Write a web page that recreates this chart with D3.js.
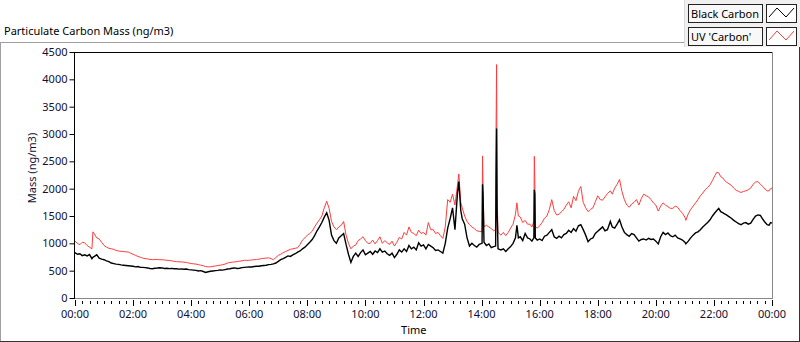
<!DOCTYPE html>
<html>
<head>
<meta charset="utf-8">
<script src="https://cdn.jsdelivr.net/npm/d3@7/dist/d3.min.js"></script>
<style>
  body { margin: 0; background: #fff; }
  svg text { font-family: "Noto Sans", sans-serif; }
</style>
</head>
<body>
<div id="chart"></div>
<script>
// minutes since midnight
const times = [
    0,5,10,15,20,25,30,35,37,40,
    45,50,55,60,65,70,75,80,85,90,
    95,100,105,110,115,120,125,130,135,140,
    145,150,155,160,165,170,175,180,185,190,
    195,200,205,210,215,220,225,230,235,240,
    245,250,255,260,265,270,275,280,285,290,
    295,300,305,310,315,320,325,330,335,340,
    345,350,355,360,365,370,375,380,385,390,
    395,400,405,410,415,420,425,430,435,440,
    445,450,455,460,465,470,475,480,485,490,
    495,500,505,510,515,520,525,530,535,540,
    545,550,555,560,565,570,575,580,585,590,
    595,600,605,610,615,620,625,630,635,640,
    645,650,655,660,665,670,675,680,685,690,
    695,700,705,710,715,720,725,730,735,740,
    745,750,755,760,765,770,775,780,785,790,
    793,797,800,805,810,815,820,825,830,835,
    841,842,843,845,850,855,860,865,869,870,
    871,872,874,880,885,890,895,900,905,910,
    913,916,920,925,930,935,940,944,948,949,
    950,951,955,960,965,970,975,980,985,990,
    995,1000,1005,1010,1015,1020,1025,1030,1035,1040,
    1045,1050,1055,1060,1065,1070,1075,1080,1085,1090,
    1095,1100,1106,1110,1115,1120,1125,1130,1135,1140,
    1145,1150,1155,1160,1165,1170,1175,1180,1185,1190,
    1195,1200,1205,1210,1215,1220,1225,1230,1235,1240,
    1245,1250,1255,1260,1262,1267,1272,1277,1282,1287,
    1292,1297,1302,1307,1312,1317,1322,1326,1330,1334,
    1338,1342,1346,1351,1356,1361,1366,1371,1376,1381,
    1386,1391,1396,1401,1406,1411,1416,1421,1426,1430,
    1434,1437,1440
];

// ng/m3
const blackCarbon = [
    830,800,810,775,790,770,795,720,745,760,
    790,730,710,700,680,665,640,630,620,615,
    605,600,595,590,585,580,570,575,560,560,
    555,550,540,535,545,548,552,550,540,545,
    538,542,535,535,528,532,525,530,520,515,
    510,505,495,500,485,468,480,490,495,500,
    505,515,510,520,530,535,545,550,540,545,
    555,560,565,570,568,575,580,580,590,595,
    600,610,615,625,640,670,700,720,745,770,
    760,790,810,840,860,900,930,975,1020,1070,
    1140,1230,1300,1380,1480,1560,1420,1150,1050,1000,
    1100,1140,1180,980,800,650,760,820,760,830,
    880,790,820,850,800,860,830,900,840,860,
    810,780,820,740,800,880,840,900,850,960,
    900,930,880,1010,950,970,900,980,950,920,
    870,880,850,820,1000,1280,1450,1650,1250,1900,
    2130,1600,1450,1350,1100,950,1000,960,930,980,
    1000,2080,1900,1020,960,990,920,940,950,2250,
    3100,1600,900,880,900,850,900,940,1000,1100,
    1330,1100,1120,1050,1180,1100,1080,1040,1100,1980,
    1900,1100,1060,1080,1050,1130,1150,1200,1250,1120,
    1090,1130,1100,1160,1180,1240,1200,1270,1220,1320,
    1340,1250,1150,1030,1080,1100,1180,1220,1260,1300,
    1230,1250,1400,1300,1280,1350,1430,1300,1200,1160,
    1130,1180,1160,1100,1040,1070,1080,1060,1090,1070,
    1080,1040,990,1120,1200,1160,1190,1140,1120,1150,
    1100,1080,1060,1020,990,1040,1100,1150,1190,1210,
    1250,1300,1340,1380,1430,1500,1560,1600,1640,1580,
    1560,1540,1520,1490,1460,1420,1390,1360,1340,1370,
    1380,1350,1370,1440,1500,1520,1510,1440,1380,1340,
    1330,1380,1370
];

const uvCarbon = [
    1040,1000,975,1020,1010,960,930,900,1210,1170,
    1100,1080,1020,960,930,910,900,890,870,860,
    855,850,845,840,820,800,780,760,745,730,
    720,715,705,700,705,705,700,700,695,690,
    685,680,670,665,662,660,655,650,640,630,
    625,620,610,600,590,575,570,570,580,585,
    595,600,610,620,640,650,655,660,665,675,
    680,690,688,690,695,700,705,710,720,725,
    730,735,720,700,740,780,800,830,850,870,
    890,900,910,920,980,1060,1100,1150,1180,1220,
    1300,1370,1430,1500,1650,1770,1640,1400,1300,1250,
    1300,1330,1400,1150,1000,900,950,970,1050,1080,
    1120,1050,1000,1000,1060,990,1050,1120,1000,1050,
    1010,980,1040,950,1020,1110,1080,1200,1150,1300,
    1200,1180,1140,1240,1180,1200,1150,1380,1250,1250,
    1180,1200,1140,1090,1300,1800,1750,1900,1700,2050,
    2270,1750,1650,1500,1400,1340,1300,1270,1230,1220,
    1210,2600,1980,1300,1330,1300,1270,1230,1250,3150,
    4270,1900,1200,1150,1200,1140,1200,1280,1350,1530,
    1740,1500,1480,1380,1420,1350,1350,1300,1400,2590,
    2140,1300,1280,1320,1380,1460,1500,1620,1800,1600,
    1520,1530,1580,1620,1700,1760,1650,1860,1780,1950,
    2040,1750,1650,1580,1620,1650,1760,1870,1800,1790,
    1850,1910,1960,1900,2010,2080,2170,1950,1800,1700,
    1660,1720,1750,1800,1700,1820,1900,1870,1850,1800,
    1740,1700,1590,1680,1740,1700,1670,1640,1640,1680,
    1660,1600,1550,1480,1420,1540,1620,1680,1740,1800,
    1870,1920,1980,2020,2070,2150,2240,2300,2290,2220,
    2200,2150,2120,2090,2060,2010,1970,1950,1930,1950,
    1960,1980,2010,2080,2120,2130,2080,2040,1990,1960,
    1960,2000,2010
];

const yTicks = [0,500,1000,1500,2000,2500,3000,3500,4000,4500];
const xTickLabels = ["00:00","02:00","04:00","06:00","08:00","10:00","12:00","14:00","16:00","18:00","20:00","22:00","00:00"];
const seriesNames = ["Black Carbon", "UV 'Carbon'"];
const seriesColors = ["#000000", "#ff3c3c"];

const width = 800;
const height = 342;
const plot = { left: 75, right: 772, top: 52, bottom: 298 };

const svg = d3.select("#chart")
    .append("svg")
    .attr("width", width)
    .attr("height", height);

svg.append("rect").attr("width", width).attr("height", height).attr("fill", "#fff");

// outer frame
svg.append("line").attr("x1", 0).attr("x2", 684).attr("y1", 42.5).attr("y2", 42.5).attr("stroke", "#a0a0a0");
svg.append("line").attr("x1", 0.5).attr("x2", 0.5).attr("y1", 42).attr("y2", 342).attr("stroke", "#a0a0a0");
svg.append("line").attr("x1", 0).attr("x2", 800).attr("y1", 341.5).attr("y2", 341.5).attr("stroke", "#333");
svg.append("line").attr("x1", 799.5).attr("x2", 799.5).attr("y1", 47).attr("y2", 342).attr("stroke", "#333");

// title
svg.append("text")
    .attr("x", 4).attr("y", 35)
    .attr("font-size", 11)
    .attr("fill", "#000")
    .text("Particulate Carbon Mass (ng/m3)");

// scales
const x = d3.scaleLinear().domain([0, 1440]).range([plot.left, plot.right]);
const y = d3.scaleLinear().domain([0, 4500]).range([plot.bottom, plot.top]);

// plot border
svg.append("line").attr("x1", plot.left - 0.5).attr("x2", plot.right).attr("y1", plot.top + 0.5).attr("y2", plot.top + 0.5).attr("stroke", "#000");
svg.append("line").attr("x1", plot.right + 0.5).attr("x2", plot.right + 0.5).attr("y1", plot.top).attr("y2", plot.bottom + 1).attr("stroke", "#888");

// y axis
const yAxis = svg.append("g")
    .attr("transform", `translate(${plot.left - 0.5},0)`)
    .call(d3.axisLeft(y).tickValues(yTicks).tickSize(5).tickPadding(2).tickFormat(d3.format("d")));
yAxis.select(".domain").attr("stroke", "#000").attr("d", `M0,${plot.top}V${plot.bottom + 1}`);
yAxis.selectAll("text").attr("font-size", 11).attr("fill", "#101030").attr("font-family", "Noto Sans");

// x axis line
svg.append("line").attr("x1", plot.left).attr("x2", plot.right + 1).attr("y1", plot.bottom + 0.5).attr("y2", plot.bottom + 0.5).attr("stroke", "#888");

// x minor ticks every 15 minutes, longer every 2 hours
svg.append("g")
    .selectAll("line")
    .data(d3.range(0, 1441, 15))
    .enter().append("line")
    .attr("x1", d => Math.round(x(d)) + 0.5)
    .attr("x2", d => Math.round(x(d)) + 0.5)
    .attr("y1", d => d % 120 === 0 ? plot.bottom + 2 : plot.bottom + 3)
    .attr("y2", d => d % 120 === 0 ? plot.bottom + 8 : plot.bottom + 6)
    .attr("stroke", "#000");

// x tick labels
svg.append("g")
    .selectAll("text")
    .data(xTickLabels)
    .enter().append("text")
    .attr("x", (d, i) => x(i * 120))
    .attr("y", 318)
    .attr("text-anchor", "middle")
    .attr("font-size", 11)
    .attr("fill", "#101030")
    .text(d => d);

// axis titles
svg.append("text")
    .attr("x", x(700)).attr("y", 334)
    .attr("text-anchor", "middle")
    .attr("font-size", 11)
    .attr("fill", "#000")
    .text("Time");

svg.append("text")
    .attr("transform", "translate(36,168) rotate(-90)")
    .attr("text-anchor", "middle")
    .attr("font-size", 11)
    .attr("fill", "#101030")
    .text("Mass (ng/m3)");

// lines
const line = d3.line()
    .x((d, i) => x(times[i]))
    .y(d => y(d));

svg.append("path")
    .datum(uvCarbon)
    .attr("fill", "none")
    .attr("stroke", seriesColors[1])
    .attr("stroke-width", 1)
    .attr("d", line);

svg.append("path")
    .datum(blackCarbon)
    .attr("fill", "none")
    .attr("stroke", seriesColors[0])
    .attr("stroke-width", 1.4)
    .attr("d", line);

// legend panel
svg.append("rect").attr("x", 684).attr("y", 0).attr("width", 116).attr("height", 47).attr("fill", "#f0f0f0");
svg.append("line").attr("x1", 684.5).attr("x2", 684.5).attr("y1", 0).attr("y2", 47).attr("stroke", "#dcdcdc");

const legend = svg.append("g")
    .selectAll("g")
    .data(seriesNames)
    .enter().append("g")
    .attr("transform", (d, i) => `translate(0,${i * 23})`);

legend.append("rect")
    .attr("x", 688.5).attr("y", 4.5).attr("width", 74).attr("height", 18)
    .attr("fill", "#f8f8f8").attr("stroke", "#222");

legend.append("text")
    .attr("x", 691).attr("y", 18)
    .attr("font-size", 11)
    .attr("fill", "#000")
    .text(d => d);

legend.append("rect")
    .attr("x", 766.5).attr("y", 4.5).attr("width", 30).attr("height", 18)
    .attr("fill", "#fff").attr("stroke", "#222");

legend.append("polyline")
    .attr("points", "769,17 777,8 786,17 794,8")
    .attr("fill", "none")
    .attr("stroke", (d, i) => seriesColors[i])
    .attr("stroke-width", 1);
</script>
</body>
</html>
